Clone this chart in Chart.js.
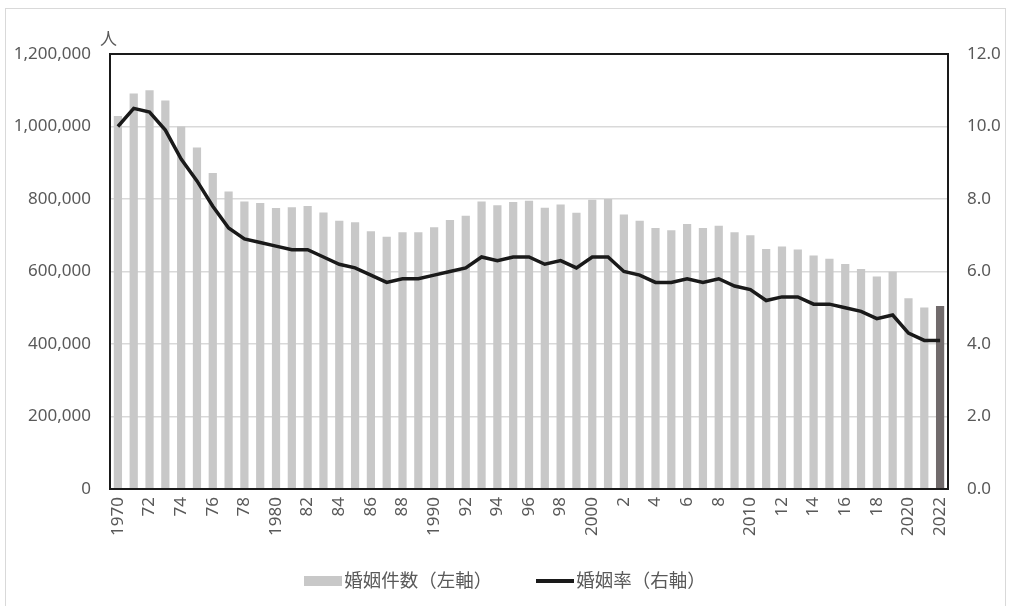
<!DOCTYPE html>
<html lang="ja">
<head>
<meta charset="utf-8">
<title>婚姻件数・婚姻率</title>
<script src="https://cdn.jsdelivr.net/npm/chart.js@4.4.1/dist/chart.umd.min.js"></script>
<style>
  html, body { margin: 0; padding: 0; background: #fff; }
  #wrap { position: relative; width: 1010px; height: 606px; overflow: hidden; }
  #frame { position: absolute; left: 5px; top: 8px; width: 1001px; height: 620px; border: 1.5px solid #d9d9d9; box-sizing: border-box; }
  #chart { position: absolute; left: 0; top: 0; }
  #unit { position: absolute; left: 100px; top: 25px; font: 17px "Noto Sans CJK JP", sans-serif; color: #595959; }
  #legend { position: absolute; top: 566px; left: 0; width: 1010px; text-align: center; font: 18.5px "Noto Sans CJK JP", sans-serif; color: #595959; white-space: nowrap; }
  .item { display: inline-block; margin: 0 20px; }
  .swatch { display: inline-block; width: 38px; height: 10px; background: #c8c8c8; vertical-align: middle; margin-right: 2px; position: relative; top: -1px; }
  .line { display: inline-block; width: 38px; height: 4px; background: #1a1a1a; vertical-align: middle; margin-right: 2px; position: relative; top: -1px; }
</style>
</head>
<body>
<div id="wrap">
  <div id="frame"></div>
  <canvas id="chart" width="1010" height="606"></canvas>
  <div id="unit">人</div>
  <div id="legend">
    <span class="item"><span class="swatch"></span>婚姻件数（左軸）</span>
    <span class="item"><span class="line"></span>婚姻率（右軸）</span>
  </div>
</div>
<script>
// 年（1970〜2022）
const years = [
  1970, 1971, 1972, 1973, 1974, 1975, 1976, 1977, 1978, 1979,
  1980, 1981, 1982, 1983, 1984, 1985, 1986, 1987, 1988, 1989,
  1990, 1991, 1992, 1993, 1994, 1995, 1996, 1997, 1998, 1999,
  2000, 2001, 2002, 2003, 2004, 2005, 2006, 2007, 2008, 2009,
  2010, 2011, 2012, 2013, 2014, 2015, 2016, 2017, 2018, 2019,
  2020, 2021, 2022
];

// 軸ラベル（1年おき）
const tickLabels = [
  '1970', '', '72', '', '74', '', '76', '', '78', '',
  '1980', '', '82', '', '84', '', '86', '', '88', '',
  '1990', '', '92', '', '94', '', '96', '', '98', '',
  '2000', '', '2', '', '4', '', '6', '', '8', '',
  '2010', '', '12', '', '14', '', '16', '', '18', '',
  '2020', '', '2022'
];

// 婚姻件数（人）
const marriages = [
  1029000, 1091000, 1100000, 1072000, 1000000, 942000, 872000, 821000, 793000, 789000,
  775000, 777000, 781000, 763000, 740000, 736000, 711000, 696000, 708000, 708000,
  722000, 742000, 754000, 793000, 783000, 792000, 795000, 776000, 785000, 762000,
  798000, 800000, 757000, 740000, 720000, 714000, 731000, 720000, 726000, 708000,
  700000, 662000, 669000, 661000, 644000, 635000, 621000, 607000, 586000, 599000,
  526000, 501000, 505000
];

// 婚姻率（人口千対）
const rates = [
  10.0, 10.5, 10.4, 9.9, 9.1, 8.5, 7.8, 7.2, 6.9, 6.8,
  6.7, 6.6, 6.6, 6.4, 6.2, 6.1, 5.9, 5.7, 5.8, 5.8,
  5.9, 6.0, 6.1, 6.4, 6.3, 6.4, 6.4, 6.2, 6.3, 6.1,
  6.4, 6.4, 6.0, 5.9, 5.7, 5.7, 5.8, 5.7, 5.8, 5.6,
  5.5, 5.2, 5.3, 5.3, 5.1, 5.1, 5.0, 4.9, 4.7, 4.8,
  4.3, 4.1, 4.1
];

const fontFamily = '"Noto Sans", "Noto Sans CJK JP", sans-serif';
const tickColor = '#595959';

// 最新年のみ濃い色
const barColors = years.map((y, i) => i === years.length - 1 ? '#716b6c' : '#c8c8c8');

// プロット領域の外枠
const frameBox = {
  id: 'frameBox',
  afterDraw(chart) {
    const { ctx, chartArea: a } = chart;
    ctx.save();
    ctx.strokeStyle = '#1a1a1a';
    ctx.lineWidth = 2;
    ctx.strokeRect(a.left, a.top, a.right - a.left, a.bottom - a.top);
    ctx.restore();
  }
};

new Chart(document.getElementById('chart').getContext('2d'), {
  data: {
    labels: years,
    datasets: [
      {
        type: 'line',
        label: '婚姻率（右軸）',
        data: rates,
        yAxisID: 'yR',
        borderColor: '#1a1a1a',
        borderWidth: 3.5,
        pointRadius: 0,
        tension: 0,
        order: 0
      },
      {
        type: 'bar',
        label: '婚姻件数（左軸）',
        data: marriages,
        yAxisID: 'yL',
        backgroundColor: barColors,
        barPercentage: 0.52,
        categoryPercentage: 1,
        order: 1
      }
    ]
  },
  options: {
    responsive: false,
    animation: false,
    events: [],
    layout: { padding: { left: 4, right: 0, top: 54, bottom: 57 } },
    plugins: { legend: { display: false }, tooltip: { enabled: false } },
    scales: {
      x: {
        grid: { display: false, drawTicks: false },
        border: { display: false },
        ticks: {
          autoSkip: false,
          minRotation: 90,
          maxRotation: 90,
          padding: 8,
          color: tickColor,
          font: { family: fontFamily, size: 17 },
          callback: (v, i) => tickLabels[i]
        },
        afterFit(s) { s.height = 60; }
      },
      yL: {
        position: 'left',
        min: 0,
        max: 1200000,
        grid: { color: '#d9d9d9', lineWidth: 1.5, drawTicks: false },
        border: { display: false },
        ticks: {
          stepSize: 200000,
          padding: 19,
          color: tickColor,
          font: { family: fontFamily, size: 17 },
          callback: v => v.toLocaleString('en-US')
        },
        afterFit(s) { s.width = 106; }
      },
      yR: {
        position: 'right',
        min: 0,
        max: 12,
        grid: { display: false, drawTicks: false },
        border: { display: false },
        ticks: {
          stepSize: 2,
          padding: 19,
          color: tickColor,
          font: { family: fontFamily, size: 17 },
          callback: v => v.toFixed(1)
        },
        afterFit(s) { s.width = 62; }
      }
    }
  },
  plugins: [frameBox]
});
</script>
</body>
</html>
